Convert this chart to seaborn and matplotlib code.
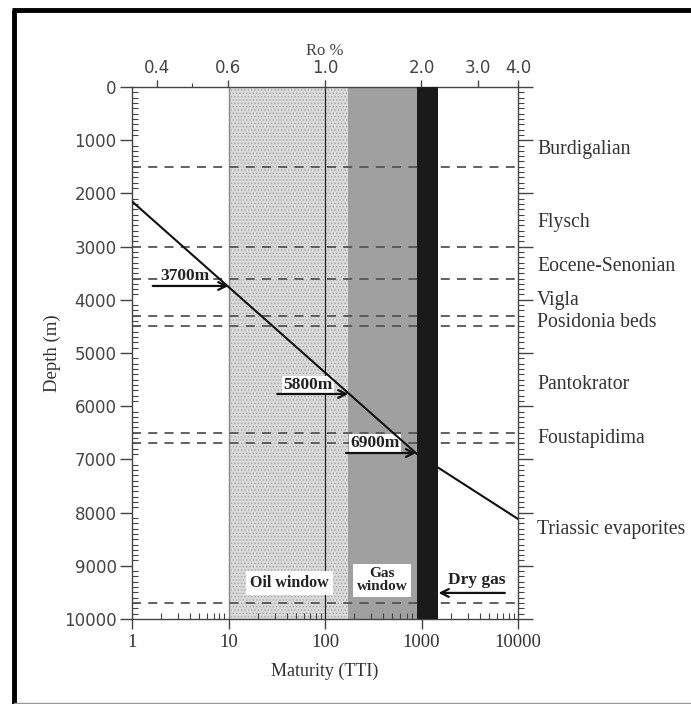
import numpy as np
import pandas as pd
import matplotlib
matplotlib.use('Agg')
import matplotlib.pyplot as plt
import matplotlib.transforms as mtransforms
from matplotlib.lines import Line2D
from matplotlib.ticker import FixedLocator, NullFormatter, LogLocator, MultipleLocator
import seaborn as sns

# ---------------- data ----------------
curve_tti = [1, 900, 10000]
curve_depth = [2150, 6900, 8120]

oil_window = (10, 175)
gas_window = (175, 890)
dry_gas = (890, 1480)

boundary_depths = [1500, 3000, 3600, 4300, 4500, 6500, 6700, 9700]
formation_names = ['Burdigalian', 'Flysch', 'Eocene-Senonian', 'Vigla',
                   'Posidonia beds', 'Pantokrator', 'Foustapidima',
                   'Triassic evaporites']
formation_depths = [1170, 2540, 3370, 4010, 4430, 5600, 6610, 8310]

marker_labels = ['3700m', '5800m', '6900m']
marker_depth = [3740, 5770, 6880]
marker_tip_tti = [10, 175, 880]
marker_tail_tti = [1.64, 32, 165]
marker_text_tti = [3.5, 66, 330]
marker_text_depth = [3560, 5600, 6700]

ro_labels = ['0.4', '0.6', '1.0', '2.0', '3.0', '4.0']
ro_tti = [1.8, 10, 100, 1000, 3850, 10000]
ro_minor_tti = [4.2]

tti_ticks = [1, 10, 100, 1000, 10000]
tti_labels = ['1', '10', '100', '1000', '10000']

# ---------------- style ----------------
sns.set_theme(style='ticks')
plt.rcParams['font.family'] = ['DejaVu Sans']
plt.rcParams['hatch.linewidth'] = 0.6
SERIF = ['Liberation Serif', 'DejaVu Serif']
TXT = '#333333'
SPINE = '#444444'

fig = plt.figure(figsize=(6.91, 7.04), dpi=100)
ax = fig.add_axes([132 / 691, 1 - 619 / 704, (518 - 132) / 691, (619 - 87) / 704])
ax.set_xscale('log')

# windows
ax.axvspan(*oil_window, facecolor='#dadada', edgecolor='#a6a6a6', hatch='.....',
           linewidth=0, zorder=0)
ax.axvline(oil_window[0], color='#888888', lw=1.0, zorder=1)
ax.axvspan(*gas_window, facecolor='#a0a0a0', edgecolor='none', lw=0, zorder=0.5)
ax.axvline(100, color='#222222', lw=0.9, zorder=1)

# boundaries
for d in boundary_depths:
    ax.axhline(d, color='#555555', lw=1.3, ls=(0, (5, 4)), zorder=2)

# maturity curve
df = pd.DataFrame({'tti': curve_tti, 'depth': curve_depth})
sns.lineplot(data=df, x='tti', y='depth', ax=ax, color='#111111', lw=1.5,
             sort=False, zorder=3)

# dry gas bar
ax.axvspan(*dry_gas, facecolor='#1a1a1a', edgecolor='none', lw=0, zorder=4)

ax.set_xlim(1, 10000)
ax.set_ylim(10000, 0)

# marker arrows
for i, lab in enumerate(marker_labels):
    bbox = (dict(boxstyle='square,pad=0.02', fc='white', ec='none') if i == 0 else
            dict(boxstyle='square,pad=0.08', fc='white', ec='none'))
    ax.text(marker_text_tti[i], marker_text_depth[i], lab, ha='center', va='center',
            fontsize=12.5, fontweight='bold', family=SERIF, color='#222222',
            bbox=bbox, zorder=2.5)
    ax.annotate('', xy=(marker_tip_tti[i], marker_depth[i]),
                xytext=(marker_tail_tti[i], marker_depth[i]),
                arrowprops=dict(arrowstyle='->', color='#111111', lw=1.6,
                                shrinkA=0, shrinkB=0, mutation_scale=14),
                zorder=6)

# window labels
ax.text(43, 9320, 'Oil window', ha='center', va='center', fontsize=11.5,
        fontweight='bold', family=SERIF, color='#222222',
        bbox=dict(boxstyle='square,pad=0.25', fc='white', ec='none'), zorder=5)
ax.text(390, 9270, 'Gas\nwindow', ha='center', va='center', fontsize=11,
        fontweight='bold', family=SERIF, color='#222222', linespacing=0.95,
        bbox=dict(boxstyle='square,pad=0.25', fc='white', ec='none'), zorder=5)
ax.text(3760, 9260, 'Dry gas', ha='center', va='center', fontsize=12.5,
        fontweight='bold', family=SERIF, color='#222222', zorder=5)
ax.annotate('', xy=(1500, 9510), xytext=(7300, 9510),
            arrowprops=dict(arrowstyle='->', color='#111111', lw=1.6,
                            shrinkA=0, shrinkB=0, mutation_scale=14), zorder=6)

# formation labels
trans = mtransforms.blended_transform_factory(ax.transAxes, ax.transData)
for name, d in zip(formation_names, formation_depths):
    ax.text(1.049, d, name, transform=trans, ha='left', va='center',
            fontsize=14.2, family=SERIF, color=TXT, clip_on=False)

# axes / ticks
for s in ax.spines.values():
    s.set_color(SPINE)
    s.set_linewidth(1.0)
ax.xaxis.set_major_locator(FixedLocator(tti_ticks))
ax.set_xticklabels(tti_labels, family=SERIF, fontsize=13.5, color=TXT)
ax.xaxis.set_minor_locator(LogLocator(base=10, subs=np.arange(2, 10)))
ax.xaxis.set_minor_formatter(NullFormatter())
ax.yaxis.set_major_locator(MultipleLocator(1000))
ax.yaxis.set_minor_locator(MultipleLocator(100))
ax.tick_params(axis='y', which='major', direction='out', length=9, width=1,
               color=SPINE, labelsize=12, labelcolor='#444444', pad=2)
ax.tick_params(axis='y', which='minor', direction='in', length=4, width=0.8,
               color=SPINE, left=True)
ax.tick_params(axis='x', which='major', direction='out', length=7, width=1,
               color=SPINE, pad=4)
ax.tick_params(axis='x', which='minor', direction='in', length=4, width=0.8,
               color=SPINE, bottom=True)
ax.set_xlabel('Maturity (TTI)', family=SERIF, fontsize=13, color=TXT, labelpad=8)
ax.set_ylabel('Depth (m)', family=SERIF, fontsize=13.5, color=TXT, labelpad=4)
ax.yaxis.set_label_coords(-0.185, 0.5)

# right ticks
axr = ax.twinx()
axr.set_ylim(10000, 0)
axr.yaxis.set_major_locator(MultipleLocator(1000))
axr.yaxis.set_minor_locator(MultipleLocator(100))
axr.yaxis.set_major_formatter(NullFormatter())
axr.tick_params(axis='y', which='major', direction='out', length=11, width=1, color=SPINE)
axr.tick_params(axis='y', which='minor', direction='out', length=4, width=0.8, color=SPINE,
                right=True)
for s in axr.spines.values():
    s.set_visible(False)

# top Ro axis
axt = ax.twiny()
axt.set_xscale('log')
axt.set_xlim(1, 10000)
axt.xaxis.set_major_locator(FixedLocator(ro_tti))
axt.set_xticklabels(ro_labels, fontsize=12, color='#444444')
axt.xaxis.set_minor_locator(FixedLocator(ro_minor_tti))
axt.xaxis.set_minor_formatter(NullFormatter())
axt.tick_params(axis='x', which='major', direction='out', length=5, width=1, color=SPINE, pad=2)
axt.tick_params(axis='x', which='minor', direction='out', length=3, width=0.8, color=SPINE,
                top=True)
axt.set_xlabel('Ro %', fontsize=12, color='#444444', family=SERIF, labelpad=3)
for s in axt.spines.values():
    s.set_visible(False)

# figure frame
fig.add_artist(Line2D([14 / 691, 14 / 691], [0, 1 - 10 / 704], transform=fig.transFigure,
                      color='black', lw=3.5, solid_capstyle='butt'))
fig.add_artist(Line2D([12 / 691, 1], [1 - 10 / 704, 1 - 10 / 704], transform=fig.transFigure,
                      color='black', lw=3.5, solid_capstyle='butt'))
fig.add_artist(Line2D([14 / 691, 1], [1 / 704, 1 / 704], transform=fig.transFigure,
                      color='#999999', lw=1.0))

fig.savefig('out.png', dpi=100)
